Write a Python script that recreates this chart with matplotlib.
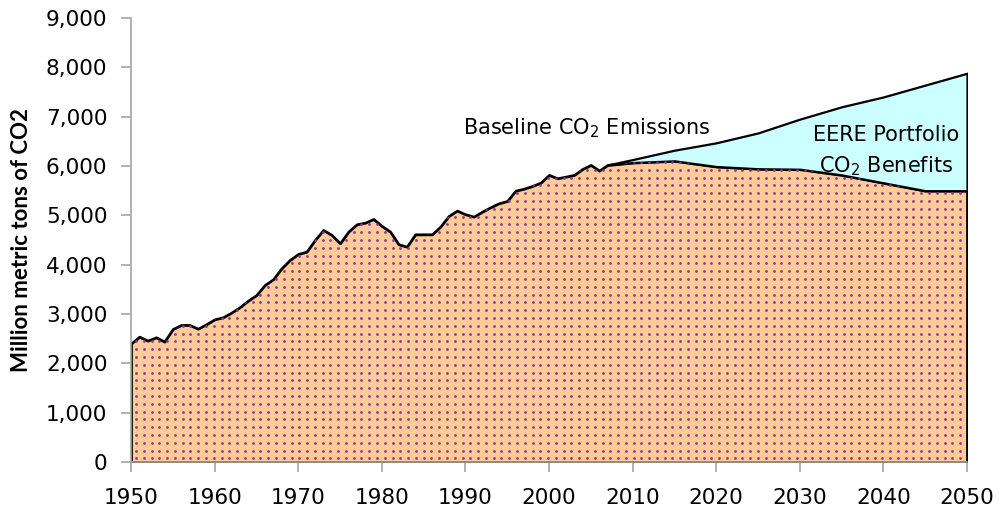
import numpy as np
import matplotlib
matplotlib.use('Agg')
import matplotlib.pyplot as plt
from matplotlib.ticker import FuncFormatter

#historical emissions (million metric tons of CO2)
hist_years = list(range(1950, 2008))
hist_co2 = [2400, 2540, 2460, 2527, 2440, 2696, 2777, 2777, 2703, 2791,
            2892, 2933, 3027, 3136, 3270, 3385, 3588, 3703, 3926, 4095,
            4217, 4263, 4500, 4703, 4602, 4433, 4669, 4818, 4851, 4926,
            4784, 4669, 4413, 4365, 4615, 4615, 4615, 4770, 4987, 5095,
            5021, 4973, 5074, 5163, 5244, 5291, 5500, 5540, 5595, 5662,
            5818, 5751, 5784, 5818, 5940, 6021, 5906, 6021]

#projections
proj_years = [2007, 2010, 2015, 2020, 2025, 2030, 2035, 2040, 2045, 2050]
baseline = [6021, 6130, 6320, 6470, 6670, 6950, 7200, 7400, 7640, 7880]
eere = [6021, 6070, 6105, 5990, 5945, 5935, 5820, 5660, 5500, 5500]

y_ticks = list(range(0, 10000, 1000))
x_ticks = list(range(1950, 2060, 10))

plt.rcParams['mathtext.default'] = 'regular'

fig = plt.figure(figsize=(10.03, 5.2), dpi=100)
ax = fig.add_axes([131/1003, 1 - 462/520, 836/1003, 444/520])

all_years = hist_years + proj_years[1:]
lower = hist_co2 + eere[1:]

orange = ax.fill_between(all_years, 0, lower, facecolor='#ffcc99',
                         edgecolor='black', linewidth=2.0, zorder=2)
ax.fill_between(proj_years, eere, baseline, facecolor='#ccffff',
                edgecolor='black', linewidth=1.6, zorder=2)

#dot texture inside the orange area
gx, gy = np.meshgrid(np.arange(1950.6, 2050, 0.93), np.arange(75, 7000, 158))
dots = ax.scatter(gx.ravel(), gy.ravel(), s=4, color='#93358f',
                  linewidths=0, zorder=3)
dots.set_clip_path(orange.get_paths()[0], ax.transData)

ax.set_xlim(1950, 2050)
ax.set_ylim(0, 9000)
ax.set_xticks(x_ticks)
ax.set_yticks(y_ticks)
ax.yaxis.set_major_formatter(FuncFormatter(lambda v, p: '{:,.0f}'.format(v)))

for s in ['top', 'right']:
    ax.spines[s].set_visible(False)
for s in ['left', 'bottom']:
    ax.spines[s].set_color('#a6a6a6')
    ax.spines[s].set_linewidth(1.2)
ax.tick_params(axis='both', colors='#a6a6a6', length=7, width=1.2,
               labelsize=15.5, labelcolor='black')
ax.tick_params(axis='y', pad=10)
ax.tick_params(axis='x', pad=12)

ax.set_ylabel('Million metric tons of CO2', fontsize=16, fontweight='bold',
              family='Lato', labelpad=10)

ax.text(1989.7, 6770, 'Baseline CO$_2$ Emissions', fontsize=15,
        va='center', ha='left')
ax.text(2040.3, 6630, 'EERE Portfolio', fontsize=15, va='center', ha='center',
        zorder=4)
ax.text(2040.3, 5986, 'CO$_2$ Benefits', fontsize=15, va='center', ha='center',
        zorder=4)

fig.savefig('out.png', dpi=100)
